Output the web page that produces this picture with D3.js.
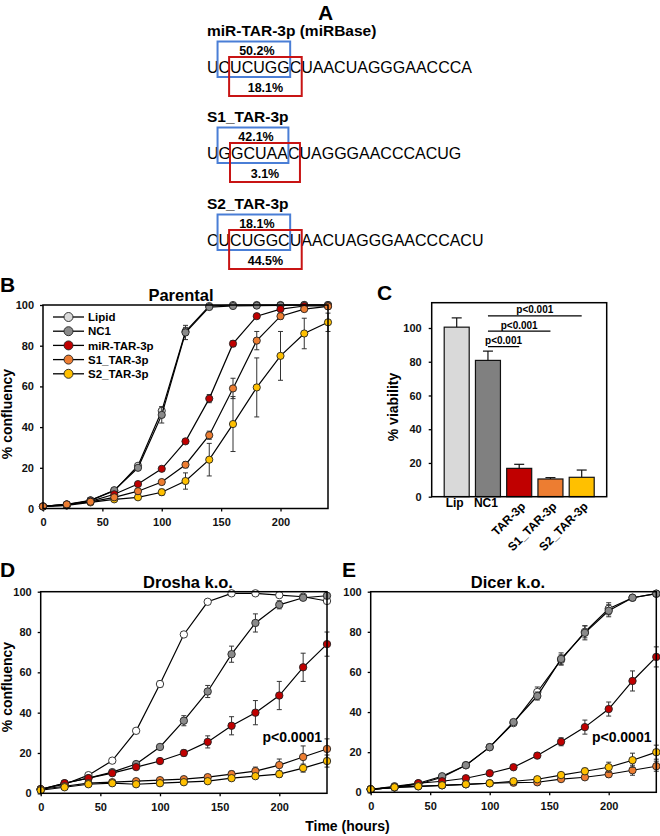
<!DOCTYPE html>
<html>
<head>
<meta charset="utf-8">
<script src="https://cdn.jsdelivr.net/npm/d3@7"></script>
<style>
  body { margin: 0; background: #fff; }
  svg { display: block; font-family: "Liberation Sans", Arial, sans-serif; }
</style>
</head>
<body>
<svg id="fig" width="660" height="836"></svg>
<script>
// ---- panel A: sequences
const seqTitles = ["miR-TAR-3p (miRBase)", "S1_TAR-3p", "S2_TAR-3p"];
const seqStrings = ["UCUCUGGCUAACUAGGGAACCCA", "UGGCUAACUAGGGAACCCACUG", "CUCUGGCUAACUAGGGAACCCACU"];
const seedTopPct = ["50.2%", "42.1%", "18.1%"];
const seedBottomPct = ["18.1%", "3.1%", "44.5%"];

// ---- growth curves (time in hours)
const hours = [0, 20, 40, 60, 80, 100, 120, 140, 160, 180, 200, 220, 240];
const seriesNames = ["Lipid", "NC1", "miR-TAR-3p", "S1_TAR-3p", "S2_TAR-3p"];
const seriesColors = ["#dadada", "#8a8a8a", "#c00000", "#ed7d31", "#ffc000"];
const xTicks = [0, 50, 100, 150, 200];
const yTicks = [0, 20, 40, 60, 80, 100];

// B - parental
const bLipid = [1, 1.5, 4, 8.7, 21, 48, 87, 99.5, 100, 100, 100, 100, 100];
const bNC1 = [1, 2, 4, 9, 20, 46, 86.5, 99, 99.5, 99.7, 99.8, 100, 100];
const bMiR = [1, 2, 3.5, 7, 12, 19.5, 33, 54, 81, 94.5, 98, 99.5, 99.5];
const bS1 = [1, 2, 3.3, 5.5, 8.5, 13, 21.5, 36, 59, 82.5, 94.5, 98, 99.3];
const bS2 = [1, 1.5, 3, 4.5, 5.5, 8, 13.5, 24, 41.5, 59.5, 75, 86, 91.5];
const bLipidErr = [0, 0, 0, 0, 1, 2, 2, 0.5, 0, 0, 0, 0, 0];
const bNC1Err = [0, 0, 0, 0.5, 1, 4, 3.5, 0.5, 0, 0, 0, 0, 0];
const bMiRErr = [0, 0, 0.5, 0.5, 1, 1, 1, 2, 1.5, 1, 0.5, 0.5, 0.5];
const bS1Err = [0, 0, 0.5, 0.5, 1, 1, 1.5, 2, 5, 4.5, 1.5, 1, 1];
const bS2Err = [0, 0, 0.5, 0.5, 1, 1.5, 4, 8, 13.5, 14.5, 12, 7.5, 4.5];

// C - viability
const cLabels = ["Lip", "NC1", "TAR-3p", "S1_TAR-3p", "S2_TAR-3p"];
const cValues = [100.5, 80.8, 16.8, 10.5, 11.5];
const cErr = [5.5, 5.5, 2.4, 0.8, 4.3];
const cPairs = [[1, 2], [1, 3], [1, 4]];
const cPLabels = ["p<0.001", "p<0.001", "p<0.001"];

// D - Drosha k.o.
const dLipid = [2, 4.5, 9, 16.2, 31, 54.2, 78.8, 95, 99.2, 99.2, 98.3, 97.5, 95.4];
const dNC1 = [2, 5, 7.5, 10.5, 14.5, 23, 36, 50.5, 69, 84.5, 93.5, 97, 98];
const dMiR = [2, 5, 7.5, 10, 13, 16, 20, 25.5, 33.5, 40, 48.5, 62.5, 74];
const dS1 = [2, 3.5, 5, 5.5, 6, 6.5, 7, 8, 9.5, 11, 14, 18, 22];
const dS2 = [1.5, 3, 4.5, 5, 4.5, 5, 5.5, 6, 7.5, 8.5, 9.5, 12.5, 16];
const dLipidErr = [0, 0, 0.5, 0.5, 1, 1.5, 1, 0.5, 0.5, 0.5, 0.5, 0.5, 0.5];
const dNC1Err = [0, 0, 0.5, 0.5, 1, 1, 2.5, 3, 4, 4.5, 2, 1, 1];
const dMiRErr = [0, 0, 0.5, 0.5, 1, 1, 1.5, 3, 4.5, 6, 7, 7, 6];
const dS1Err = [0, 0, 0.5, 0.5, 0.5, 0.5, 0.5, 1, 1.5, 2, 3, 5.5, 5];
const dS2Err = [0, 0, 0.5, 0.5, 0.5, 0.5, 0.5, 1, 1, 1, 1.5, 2, 3];

// E - Dicer k.o.
const eLipid = [1.5, 2.5, 4, 7.5, 13.5, 22.5, 34.5, 50, 66, 80, 91.5, 97, 99];
const eNC1 = [1.5, 3, 4.5, 8, 13.5, 22.5, 35, 48, 66.5, 79.5, 90.5, 97, 99];
const eMiR = [1.5, 2.5, 4.5, 5.5, 7, 9.5, 12.5, 18.3, 25.2, 32.5, 41.5, 55.5, 67.5];
const eS1 = [1.5, 2.5, 3, 3.5, 4, 4.5, 4.8, 5, 6.6, 7.5, 9, 11, 13];
const eS2 = [1.5, 2.5, 3, 3.5, 4, 4.5, 5.5, 6.5, 8.6, 10.5, 12.5, 16, 20];
const eLipidErr = [0, 0, 0.5, 0.5, 1, 1, 1, 2.5, 2.5, 3, 3, 1, 0.5];
const eNC1Err = [0, 0, 0.5, 0.5, 1, 1, 1, 2, 3, 3.5, 3, 1, 0.5];
const eMiRErr = [0, 0, 0.5, 0.5, 0.5, 1, 1, 1.5, 2, 3.5, 3.5, 5, 5];
const eS1Err = [0, 0, 0.5, 0.5, 0.5, 0.5, 0.5, 1, 1, 1, 1.5, 2.5, 2.5];
const eS2Err = [0, 0, 0.5, 0.5, 0.5, 0.5, 0.5, 1, 1, 1.5, 2.5, 3.5, 3.5];

const svg = d3.select("#fig");
const bold = "bold";

function panelLetter(txt, x, y) {
  svg.append("text").attr("x", x).attr("y", y)
    .attr("font-size", 21).attr("font-weight", bold).text(txt);
}

// ---------- A ----------
panelLetter("A", 318, 20);
const blockY = [36, 122, 209];
seqTitles.forEach((title, i) => {
  const g = svg.append("g").attr("transform", `translate(207,${blockY[i]})`);
  g.append("text").attr("font-size", 15.5).attr("font-weight", bold).text(title);
  const seq = g.append("text").attr("y", 37).attr("font-size", 16).text(seqStrings[i]);
  const node = seq.node();
  const sx = k => node.getStartPositionOfChar(k).x;
  const ex = k => node.getEndPositionOfChar(k).x;
  const blue = [sx(1) - 1, ex(6) + 0.5];
  const red = [sx(2) - 1, ex(7) + 0.5];
  g.append("rect").attr("x", blue[0]).attr("y", 5.5)
    .attr("width", blue[1] - blue[0]).attr("height", 35.5)
    .attr("fill", "none").attr("stroke", "#4a7ed6").attr("stroke-width", 2);
  g.append("rect").attr("x", red[0]).attr("y", 21)
    .attr("width", red[1] - red[0]).attr("height", 39)
    .attr("fill", "none").attr("stroke", "#c81414").attr("stroke-width", 2);
  g.append("text").attr("x", (blue[0] + blue[1]) / 2 + 3).attr("y", 18.5)
    .attr("text-anchor", "middle").attr("font-size", 12.5).attr("font-weight", bold)
    .text(seedTopPct[i]);
  g.append("text").attr("x", (red[0] + red[1]) / 2).attr("y", 55.5)
    .attr("text-anchor", "middle").attr("font-size", 12.5).attr("font-weight", bold)
    .text(seedBottomPct[i]);
});

// ---------- growth panels ----------
function styleAxis(sel) {
  sel.select(".domain").remove();
  sel.attr("font-family", null).attr("font-size", 11).attr("font-weight", bold);
  sel.selectAll(".tick line").attr("stroke-width", 1.3);
  sel.selectAll("text").attr("fill", "#111");
}

function growthPanel(cfg) {
  const x = d3.scaleLinear().domain([0, 240]).range([cfg.left, cfg.right]);
  const y = d3.scaleLinear().domain([0, 100]).range([cfg.bottom, cfg.top]);
  const g = svg.append("g");

  g.append("g").attr("transform", `translate(0,${cfg.bottom})`)
    .call(d3.axisBottom(x).tickValues(xTicks).tickSize(3).tickSizeOuter(0).tickPadding(7))
    .call(styleAxis);
  g.append("g").attr("transform", `translate(${cfg.left},0)`)
    .call(d3.axisLeft(y).tickValues(yTicks).tickSize(3).tickSizeOuter(0).tickPadding(6))
    .call(styleAxis);

  const line = d3.line().x((d, i) => x(hours[i])).y(d => y(d));
  cfg.order.forEach(k => {
    const vals = cfg.values[k], errs = cfg.errors[k];
    const s = g.append("g");
    const eb = s.selectAll("g.err").data(vals.map((v, i) => ({ v, e: errs[i], t: hours[i] })).filter(d => d.e > 0.8))
      .join("g").attr("stroke", "#333").attr("stroke-width", 1);
    eb.append("line").attr("x1", d => x(d.t)).attr("x2", d => x(d.t))
      .attr("y1", d => y(d.v - d.e)).attr("y2", d => y(Math.min(d.v + d.e, 101)));
    eb.append("line").attr("x1", d => x(d.t) - 2.5).attr("x2", d => x(d.t) + 2.5)
      .attr("y1", d => y(d.v - d.e)).attr("y2", d => y(d.v - d.e));
    eb.append("line").attr("x1", d => x(d.t) - 2.5).attr("x2", d => x(d.t) + 2.5)
      .attr("y1", d => y(Math.min(d.v + d.e, 101))).attr("y2", d => y(Math.min(d.v + d.e, 101)));
    s.append("path").datum(vals).attr("d", line)
      .attr("fill", "none").attr("stroke", "#000").attr("stroke-width", 1.2);
    s.selectAll("circle").data(vals).join("circle")
      .attr("cx", (d, i) => x(hours[i])).attr("cy", d => y(d)).attr("r", cfg.r)
      .attr("fill", cfg.fills[k]).attr("stroke", "#222").attr("stroke-width", 0.9);
  });

  g.append("rect").attr("x", cfg.left).attr("y", cfg.top)
    .attr("width", cfg.right - cfg.left).attr("height", cfg.bottom - cfg.top)
    .attr("fill", "none").attr("stroke", "#000").attr("stroke-width", 1.5);

  svg.append("text").attr("x", cfg.titleX).attr("y", cfg.top - 4)
    .attr("text-anchor", "middle").attr("font-size", 16.5).attr("font-weight", bold)
    .text(cfg.title);
  if (cfg.yLabel) {
    svg.append("text").attr("transform", `translate(12,${cfg.yLabelY}) rotate(-90)`)
      .attr("text-anchor", "middle").attr("font-size", 14).attr("font-weight", bold)
      .text("% confluency");
  }
  return { x, y, g };
}

// ---------- B ----------
panelLetter("B", 0, 292);
const pB = growthPanel({
  left: 43, right: 328, top: 305, bottom: 508.5, r: 3.6,
  title: "Parental", titleX: 181, yLabel: true, yLabelY: 414,
  values: [bLipid, bNC1, bMiR, bS1, bS2],
  errors: [bLipidErr, bNC1Err, bMiRErr, bS1Err, bS2Err],
  fills: seriesColors, order: [0, 1, 4, 2, 3]
});
const legend = svg.append("g").selectAll("g").data(seriesNames).join("g")
  .attr("transform", (d, i) => `translate(53,${317 + i * 14.2})`);
legend.append("line").attr("x1", 0).attr("x2", 31)
  .attr("stroke", "#000").attr("stroke-width", 1.3);
legend.append("circle").attr("cx", 15.5).attr("r", 4.5)
  .attr("fill", (d, i) => seriesColors[i]).attr("stroke", "#222").attr("stroke-width", 0.9);
legend.append("text").attr("x", 35).attr("dy", "0.36em")
  .attr("font-size", 11.5).attr("font-weight", bold).text(d => d);

// ---------- C ----------
panelLetter("C", 377, 300);
const cLeft = 431.7, cRight = 606.7, cTop = 302.7, cBottom = 496.7;
const xC = d3.scaleBand().domain(cLabels).range([cLeft, cRight]).paddingInner(0.2).paddingOuter(0.4);
const yC = d3.scaleLinear().domain([0, 115]).range([cBottom, cTop]);
const cFills = ["#d9d9d9", "#808080", "#c00000", "#ed7d31", "#ffc000"];
const gC = svg.append("g");
gC.append("g").attr("transform", `translate(${cLeft},0)`)
  .call(d3.axisLeft(yC).tickValues(yTicks).tickSize(3).tickSizeOuter(0).tickPadding(7))
  .call(styleAxis);
const cErrG = gC.selectAll("g.cerr").data(cValues).join("g")
  .attr("stroke", "#111").attr("stroke-width", 1.2);
cErrG.append("line")
  .attr("x1", (d, i) => xC(cLabels[i]) + xC.bandwidth() / 2)
  .attr("x2", (d, i) => xC(cLabels[i]) + xC.bandwidth() / 2)
  .attr("y1", d => yC(d)).attr("y2", (d, i) => yC(d + cErr[i]));
cErrG.append("line")
  .attr("x1", (d, i) => xC(cLabels[i]) + xC.bandwidth() / 2 - 5)
  .attr("x2", (d, i) => xC(cLabels[i]) + xC.bandwidth() / 2 + 5)
  .attr("y1", (d, i) => yC(d + cErr[i])).attr("y2", (d, i) => yC(d + cErr[i]));
gC.selectAll("rect.bar").data(cValues).join("rect")
  .attr("x", (d, i) => xC(cLabels[i])).attr("width", xC.bandwidth())
  .attr("y", d => yC(d)).attr("height", d => cBottom - yC(d))
  .attr("fill", (d, i) => cFills[i]).attr("stroke", "#111").attr("stroke-width", 1.2);
gC.append("rect").attr("x", cLeft).attr("y", cTop)
  .attr("width", cRight - cLeft).attr("height", cBottom - cTop)
  .attr("fill", "none").attr("stroke", "#000").attr("stroke-width", 1.5);
cPairs.forEach((p, k) => {
  const x1 = xC(cLabels[p[0]]) + xC.bandwidth() / 2;
  const x2 = xC(cLabels[p[1]]) + xC.bandwidth() / 2;
  const ly = yC(89 + 9.1 * k);
  gC.append("line").attr("x1", x1).attr("x2", x2).attr("y1", ly).attr("y2", ly)
    .attr("stroke", "#000").attr("stroke-width", 1.3);
  gC.append("text").attr("x", (x1 + x2) / 2).attr("y", ly - 2.5)
    .attr("text-anchor", "middle").attr("font-size", 10).attr("font-weight", bold)
    .text(cPLabels[k]);
});
cLabels.forEach((lab, i) => {
  const cx = xC(lab) + xC.bandwidth() / 2;
  if (i < 2) {
    gC.append("text").attr("x", cx - 2).attr("y", 507)
      .attr("text-anchor", "middle").attr("font-size", 12).attr("font-weight", bold).text(lab);
  } else {
    gC.append("text").attr("transform", `translate(${cx + 7},${507}) rotate(-45)`)
      .attr("text-anchor", "end").attr("font-size", 12).attr("font-weight", bold).text(lab);
  }
});
svg.append("text").attr("transform", `translate(398,407) rotate(-90)`)
  .attr("text-anchor", "middle").attr("font-size", 14).attr("font-weight", bold)
  .text("% viability");

// ---------- D ----------
panelLetter("D", 0, 577);
const pD = growthPanel({
  left: 40.7, right: 327, top: 591.7, bottom: 793.3, r: 3.7,
  title: "Drosha k.o.", titleX: 188, yLabel: true, yLabelY: 687,
  values: [dLipid, dNC1, dMiR, dS1, dS2],
  errors: [dLipidErr, dNC1Err, dMiRErr, dS1Err, dS2Err],
  fills: ["#ffffff", "#8a8a8a", "#c00000", "#ed7d31", "#ffc000"], order: [0, 1, 2, 3, 4]
});
svg.append("text").attr("x", 322).attr("y", 742).attr("text-anchor", "end")
  .attr("font-size", 14).attr("font-weight", bold).text("p<0.0001");

// ---------- E ----------
panelLetter("E", 342, 577);
const pE = growthPanel({
  left: 370.7, right: 656.3, top: 591.7, bottom: 792.3, r: 3.7,
  title: "Dicer k.o.", titleX: 508, yLabel: false,
  values: [eLipid, eNC1, eMiR, eS1, eS2],
  errors: [eLipidErr, eNC1Err, eMiRErr, eS1Err, eS2Err],
  fills: ["#ffffff", "#8a8a8a", "#c00000", "#ed7d31", "#ffc000"], order: [0, 1, 2, 3, 4]
});
svg.append("text").attr("x", 621.7).attr("y", 742).attr("text-anchor", "middle")
  .attr("font-size", 14).attr("font-weight", bold).text("p<0.0001");

svg.append("text").attr("x", 347.5).attr("y", 831).attr("text-anchor", "middle")
  .attr("font-size", 14).attr("font-weight", bold).text("Time (hours)");
</script>
</body>
</html>
